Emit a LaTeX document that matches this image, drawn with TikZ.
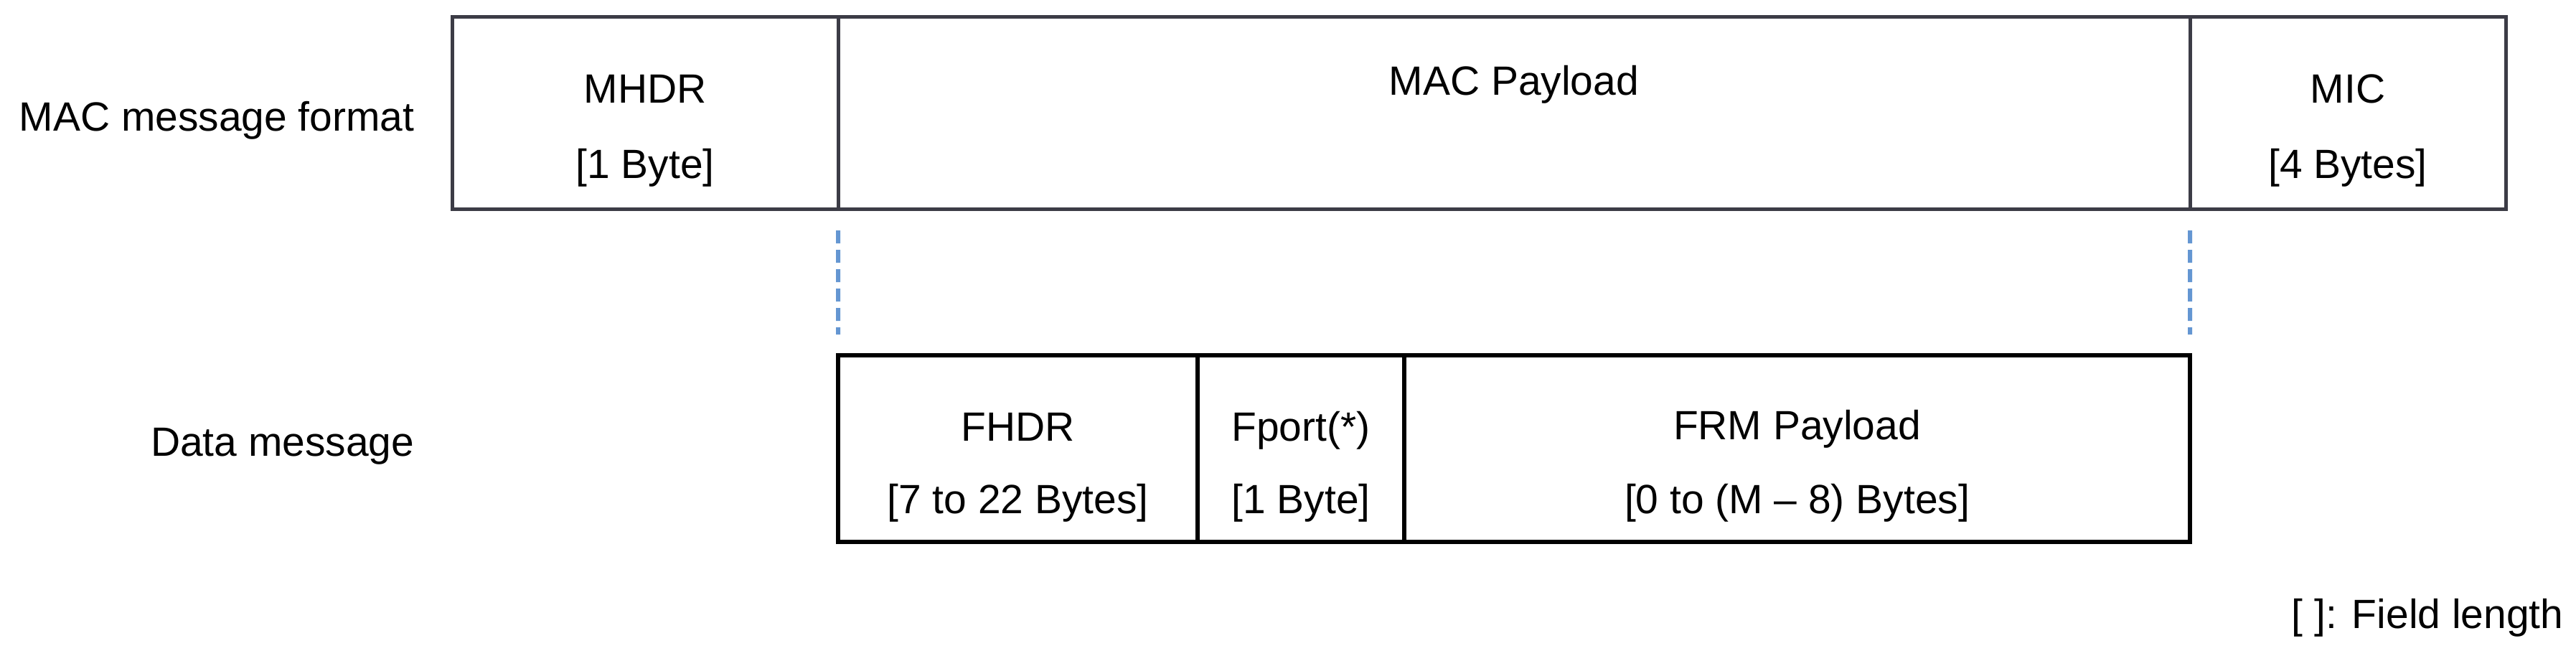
\documentclass[tikz,border=0pt]{standalone}
\usepackage{fontspec}
\setmainfont{Liberation Sans}
\usetikzlibrary{positioning}

\definecolor{boxgray}{RGB}{60,60,70}
\definecolor{splitblue}{RGB}{100,150,210}
\newcommand{\fieldfont}{\fontsize{16.2pt}{19pt}\selectfont}

\tikzset{
	macbox/.style={draw=boxgray, line width=0.05cm, rectangle, outer sep=0pt, inner sep=0pt, minimum height=2.68cm},
	databox/.style={draw=black, line width=0.06cm, rectangle, outer sep=0pt, inner sep=0pt, minimum height=2.60cm},
	fieldtext/.style={anchor=base, inner sep=0pt, font=\fieldfont},
	rowlabel/.style={anchor=base east, inner sep=0pt, font=\fieldfont},
	splitline/.style={draw=splitblue, line width=0.06cm, dash pattern=on 0.18cm off 0.09cm}
}

\begin{document}
\begin{tikzpicture}
		\useasboundingbox (0,0) rectangle (35.90,-9.06);
		% MAC message format
		\node [macbox, minimum width=5.38cm, anchor=north west] (mhdr) at (6.30,-0.23) {};
		\node [macbox, minimum width=18.84cm, right=0pt of mhdr] (macpl) {};
		\node [macbox, minimum width=4.40cm, right=0pt of macpl] (mic) {};
		\node [fieldtext] (mhdrname) at ([yshift=-1.20cm]mhdr.north) {MHDR};
		\node [fieldtext] (mhdrlen) at ([yshift=-2.25cm]mhdr.north) {[1 Byte]};
		\node [fieldtext] (maclname) at ([yshift=-1.09cm]macpl.north) {MAC Payload};
		\node [fieldtext] (micname) at ([yshift=-1.20cm]mic.north) {MIC};
		\node [fieldtext] (miclen) at ([yshift=-2.25cm]mic.north) {[4 Bytes]};
		\node [rowlabel] (L1) at (5.78,-1.82) {MAC message format};
		% Data message
		\node [databox, minimum width=5.01cm, anchor=north west] (fhdr) at (11.68,-4.95) {};
		\node [databox, minimum width=2.88cm, right=0pt of fhdr] (fport) {};
		\node [databox, minimum width=10.95cm, right=0pt of fport] (frmpl) {};
		\node [fieldtext] (fhdrname) at ([yshift=-1.19cm]fhdr.north) {FHDR};
		\node [fieldtext] (fhdrlen) at ([yshift=-2.20cm]fhdr.north) {[7 to 22 Bytes]};
		\node [fieldtext] (fportname) at ([yshift=-1.19cm]fport.north) {Fport(*)};
		\node [fieldtext] (fportlen) at ([yshift=-2.20cm]fport.north) {[1 Byte]};
		\node [fieldtext] (frmname) at ([yshift=-1.17cm]frmpl.north) {FRM Payload};
		\node [fieldtext] (frmlen) at ([yshift=-2.20cm]frmpl.north) {[0 to (M -- 8) Bytes]};
		\node [rowlabel] (L2) at (5.78,-6.35) {Data message};
		% payload split
		\draw [splitline] ([yshift=-0.30cm]mhdr.south east) -- ([yshift=0.29cm]fhdr.north west);
		\draw [splitline] ([yshift=-0.30cm]macpl.south east) -- ([yshift=0.29cm]frmpl.north east);
		\node [rowlabel] (L3) at (35.73,-8.75) {[ ]: Field length};
	\end{tikzpicture}
\end{document}
